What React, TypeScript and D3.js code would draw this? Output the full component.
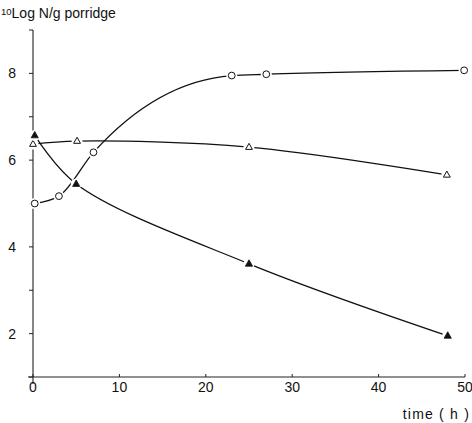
import * as d3 from 'd3'

// time (h) and 10log N/g porridge
const openCircleT = [0.2, 3, 7, 23, 27, 49.9]
const openCircleV = [5.0, 5.17, 6.18, 7.95, 7.98, 8.07]

const openTriT = [0, 5.1, 25, 47.9]
const openTriV = [6.37, 6.44, 6.3, 5.66]

const filledTriT = [0.2, 5.0, 25, 48]
const filledTriV = [6.57, 5.45, 3.61, 1.95]

const xTicks = [0, 10, 20, 30, 40, 50]
const yTicks = [1, 2, 3, 4, 5, 6, 7, 8, 9]
const yLabels = [2, 4, 6, 8]

const W = 472
const H = 423
const FONT = '"Liberation Sans", "DejaVu Sans", sans-serif'

export default function App() {
  const x = d3.scaleLinear().domain([0, 50]).range([33, 465])
  const y = d3.scaleLinear().domain([1, 9]).range([377, 30])

  const smooth = d3.line<[number, number]>()
    .x(d => x(d[0]))
    .y(d => y(d[1]))
    .curve(d3.curveCatmullRom.alpha(0.5))
  const mono = d3.line<[number, number]>()
    .x(d => x(d[0]))
    .y(d => y(d[1]))
    .curve(d3.curveMonotoneX)

  const zip = (t: number[], v: number[]) => t.map((d, i) => [d, v[i]] as [number, number])
  const circles = zip(openCircleT, openCircleV)
  const openTri = zip(openTriT, openTriV)
  const filledTri = zip(filledTriT, filledTriV)

  const tri = (cx: number, cy: number, s: number) =>
    `M${cx},${cy - s} L${cx + s * 0.9},${cy + s * 0.6} L${cx - s * 0.9},${cy + s * 0.6} Z`

  return (
    <svg width={W} height={H} style={{ position: 'absolute', left: 0, top: 0, background: '#fff' }}>
      {/* title */}
      <text x={1} y={18} fontFamily={FONT} fontSize={14} fill="#111">
        <tspan fontSize={9.5} dy={-3}>10</tspan>
        <tspan dy={3}>Log N/g porridge</tspan>
      </text>

      {/* y axis */}
      <line x1={x(0)} x2={x(0)} y1={y(9)} y2={384} stroke="#222" strokeWidth={1.1} />
      {yTicks.map(t => (
        <line key={t} x1={x(0) - 4} x2={x(0)} y1={y(t)} y2={y(t)} stroke="#222" strokeWidth={1} />
      ))}
      {yLabels.map(t => (
        <text key={t} x={16} y={y(t) + 5} textAnchor="end" fontFamily={FONT} fontSize={14} fill="#111">{t}</text>
      ))}

      {/* x axis */}
      <line x1={28} x2={x(50)} y1={y(1)} y2={y(1)} stroke="#222" strokeWidth={1.1} />
      {xTicks.map(t => (
        <g key={t}>
          <line x1={x(t)} x2={x(t)} y1={y(1) - 3} y2={y(1)} stroke="#222" strokeWidth={1} />
          <text x={x(t)} y={392} textAnchor="middle" fontFamily={FONT} fontSize={14} fill="#111">{t}</text>
        </g>
      ))}
      <text x={470} y={419} textAnchor="end" fontFamily={FONT} fontSize={14} letterSpacing={1.2} fill="#111">time  ( h )</text>

      {/* curves */}
      <path d={mono(circles) ?? ''} fill="none" stroke="#111" strokeWidth={1.3} />
      <path d={smooth(openTri) ?? ''} fill="none" stroke="#111" strokeWidth={1.3} />
      <path d={smooth(filledTri) ?? ''} fill="none" stroke="#111" strokeWidth={1.3} />

      {/* markers */}
      {circles.map((d, i) => (
        <g key={'c' + i}>
          <circle cx={x(d[0])} cy={y(d[1])} r={5.5} fill="#fff" />
          <circle cx={x(d[0])} cy={y(d[1])} r={3.4} fill="#fff" stroke="#111" strokeWidth={1} />
        </g>
      ))}
      {openTri.map((d, i) => (
        <g key={'t' + i}>
          <circle cx={x(d[0])} cy={y(d[1])} r={5.5} fill="#fff" />
          <path d={tri(x(d[0]), y(d[1]), 3.8)} fill="#fff" stroke="#111" strokeWidth={1} />
        </g>
      ))}
      {filledTri.map((d, i) => (
        <g key={'f' + i}>
          <circle cx={x(d[0])} cy={y(d[1])} r={5.5} fill="#fff" />
          <path d={tri(x(d[0]), y(d[1]), 4)} fill="#111" stroke="#111" strokeWidth={0.8} />
        </g>
      ))}
    </svg>
  )
}
